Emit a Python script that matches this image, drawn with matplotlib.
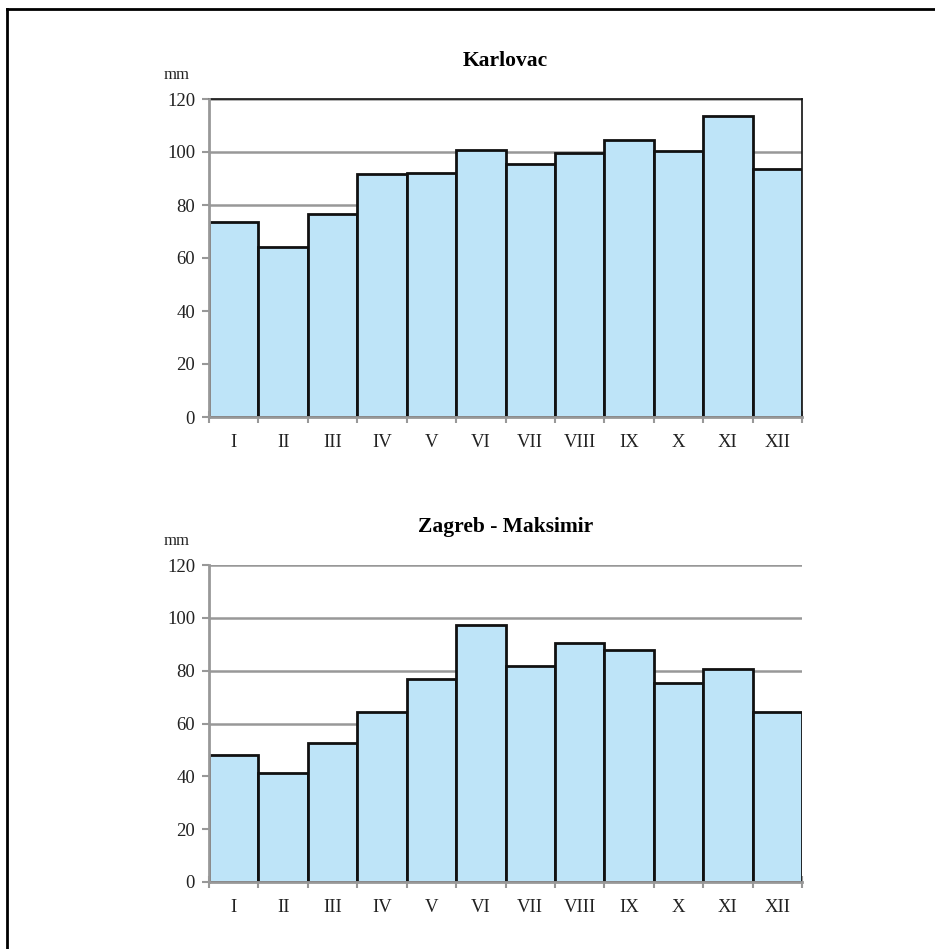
import matplotlib.pyplot as plt
from matplotlib.lines import Line2D

months = ["I", "II", "III", "IV", "V", "VI", "VII", "VIII", "IX", "X", "XI", "XII"]
karlovac = [73.4, 64.3, 76.6, 91.7, 92.2, 100.8, 95.3, 99.6, 104.4, 100.2, 113.4, 93.4]
zagreb = [48.0, 41.2, 52.5, 64.3, 76.9, 97.1, 81.7, 90.3, 87.9, 75.3, 80.6, 64.3]
y_ticks = [0, 20, 40, 60, 80, 100, 120]

BAR_COLOR = "#bee4f8"
GRID_COLOR = "#989898"
SERIF = "Liberation Serif"

plt.rcParams["font.family"] = SERIF

W, H = 935, 949
fig = plt.figure(figsize=(W / 100, H / 100), dpi=100)


def to_fig(x0, y0, x1, y1):
    # pixel box (top-left origin) -> figure fraction rect
    return [x0 / W, 1 - y1 / H, (x1 - x0) / W, (y1 - y0) / H]


def draw_panel(rect, values, title, framed):
    ax = fig.add_axes(rect)
    x = list(range(len(values)))
    ax.bar(x, values, width=1.0, color=BAR_COLOR, edgecolor="#111111",
           linewidth=2.0, zorder=3)
    ax.set_xlim(-0.5, len(values) - 0.5)
    ax.set_ylim(0, 120)
    ax.set_yticks(y_ticks)
    ax.set_yticklabels([str(t) for t in y_ticks], fontsize=13.5, color="#222222")
    ax.set_xticks(x)
    ax.set_xticklabels(months, fontsize=13.5, color="#222222")
    ax.tick_params(axis="x", length=0, pad=12)
    ax.set_xticks([i - 0.5 for i in range(len(values) + 1)], minor=True)
    ax.tick_params(axis="x", which="minor", direction="inout", length=8,
                   width=1.5, color=GRID_COLOR)
    ax.tick_params(axis="y", direction="out", length=5, width=1.5,
                   color=GRID_COLOR, pad=5)
    ax.yaxis.grid(True, color=GRID_COLOR, linewidth=1.8, zorder=0)
    ax.set_axisbelow(True)
    for side in ("left", "bottom"):
        ax.spines[side].set_color(GRID_COLOR)
        ax.spines[side].set_linewidth(2.0)
        ax.spines[side].set_zorder(4)
    if framed:
        for side in ("top", "right"):
            ax.spines[side].set_color("#111111")
            ax.spines[side].set_linewidth(1.2)
    else:
        ax.spines["top"].set_visible(False)
        ax.spines["right"].set_visible(False)
    ax.set_title(title, fontsize=15.5, fontweight="bold", pad=24)
    ax.text(-0.054, 1.075, "mm", transform=ax.transAxes, fontsize=12,
            ha="center", va="center", color="#222222")
    return ax


draw_panel(to_fig(209, 99, 802, 417), karlovac, "Karlovac", True)
draw_panel(to_fig(209, 565, 802, 882), zagreb, "Zagreb - Maksimir", False)

# page border (top and left edges)
fig.add_artist(Line2D([6.5 / W, 6.5 / W], [0, 1 - 8.5 / H], color="black",
                      linewidth=2.0, transform=fig.transFigure))
fig.add_artist(Line2D([6.5 / W, 1], [1 - 8.5 / H, 1 - 8.5 / H], color="black",
                      linewidth=2.0, transform=fig.transFigure))

fig.savefig("out.png", dpi=100)
